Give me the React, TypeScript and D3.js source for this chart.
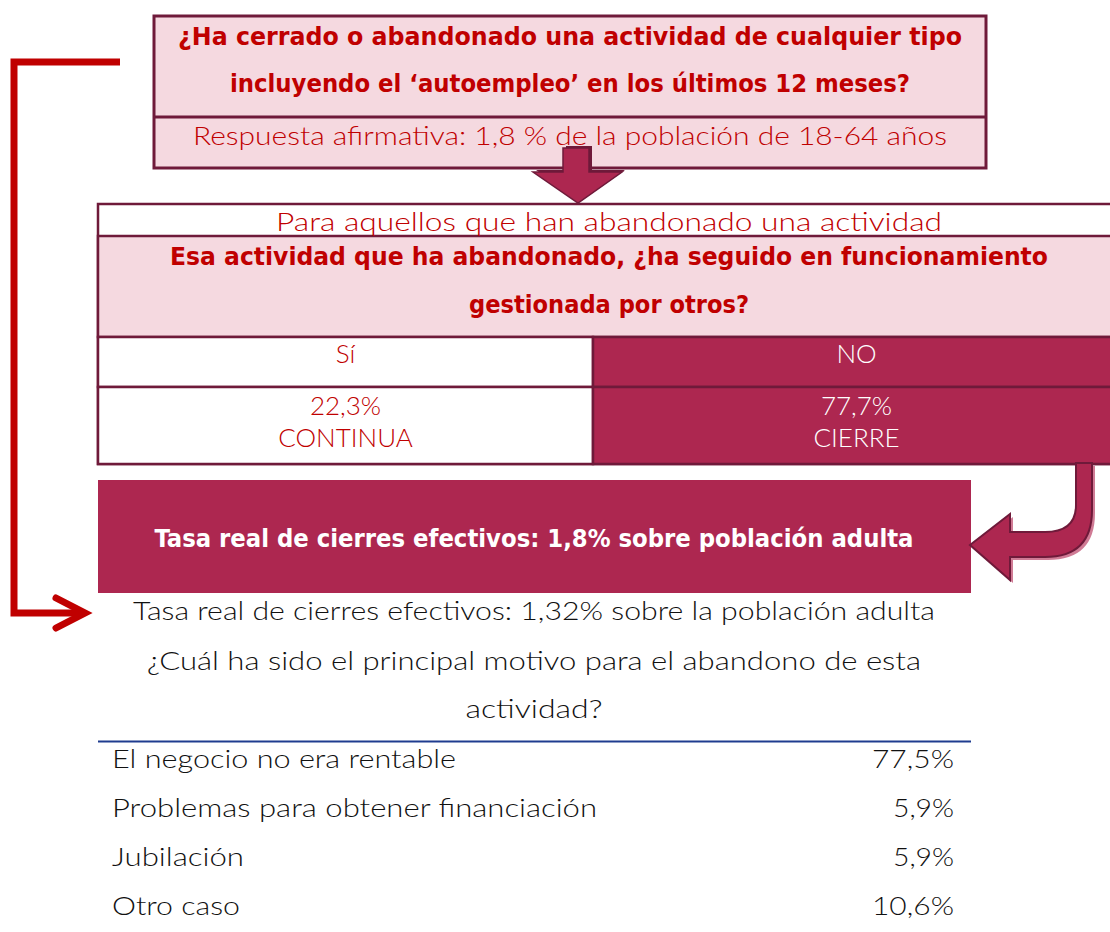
import React from 'react';
import * as d3 from 'd3';

// ---------- data ----------
const questionLines = [
  '¿Ha cerrado o abandonado una actividad de cualquier tipo',
  'incluyendo el ‘autoempleo’ en los últimos 12 meses?',
];
const affirmativeShare = 1.8;
const subgroupLabel = 'Para aquellos que han abandonado una actividad';
const followUpLines = [
  'Esa actividad que ha abandonado, ¿ha seguido en funcionamiento',
  'gestionada por otros?',
];
const answerCategories = ['Sí', 'NO'];
const answerShares = [22.3, 77.7];
const answerOutcomes = ['CONTINUA', 'CIERRE'];
const effectiveRateBox = 1.8;
const effectiveRateReal = 1.32;
const reasonQuestionLines = [
  '¿Cuál ha sido el principal motivo para el abandono de esta',
  'actividad?',
];
const reasons = [
  'El negocio no era rentable',
  'Problemas para obtener financiación',
  'Jubilación',
  'Otro caso',
];
const reasonShares = [77.5, 5.9, 5.9, 10.6];

// ---------- styles ----------
const RED = '#c00000';
const PINK = '#f5d9e0';
const MAROON = '#ad2750';
const BORDER = '#6f1a3a';
const BLUE = '#1f3c8f';
const THIN = "'Lato', 'Open Sans', sans-serif";
const BOLD = "'DejaVu Sans Condensed', 'DejaVu Sans', sans-serif";

const es = d3.formatLocale({ decimal: ',', thousands: '.', grouping: [3], currency: ['', '€'] });
const f1 = es.format('.1f');
const f2 = es.format('.2f');

type TP = { x: number; y: number; w?: number; anchor?: string; fill: string; size: number; bold?: boolean; children: any };
const T = ({ x, y, w, anchor = 'middle', fill, size, bold, children }: TP) => (
  <text
    x={x}
    y={y}
    textAnchor={anchor}
    fill={fill}
    fontSize={size}
    fontFamily={bold ? BOLD : THIN}
    fontWeight={bold ? 700 : 300}
    {...(w ? { textLength: w, lengthAdjust: 'spacingAndGlyphs' } : {})}
  >
    {children}
  </text>
);

export default function App() {
  const W = 1110;
  const H = 932;

  // columns of the answer table
  const colX = d3.scaleOrdinal<string, number>().domain(answerCategories).range([98, 593]);
  const colW = d3.scaleOrdinal<string, number>().domain(answerCategories).range([495, 527]);

  // reason rows
  const rowY = d3.scalePoint<string>().domain(reasons).range([768, 915]);

  const downArrow = 'M563,148 L589,148 L589,172 L622,172 L578,203 L533,172 L563,172 Z';
  const curvedArrow =
    'M1076,463 L1076,505 Q1076,532 1045,532 L1010,532 L1010,514 L970,545 L1010,580 L1010,557 L1045,557 Q1092,557 1092,510 L1092,463 Z';

  const titleWidths = [784, 680];
  const followWidths = [878, 280];
  const qWidths = [774, 137];
  const labelWidths = [344, 485, 132, 128];
  const valueWidths = [82, 61, 61, 82];

  return (
    <svg width={W} height={H} style={{ position: 'absolute', left: 0, top: 0, background: '#fff' }}>
      <rect x={0} y={0} width={W} height={H} fill="#fff" />

      {/* red bracket arrow on the left */}
      <path d="M120,62 H14 V613 H82" fill="none" stroke={RED} strokeWidth={7} strokeLinejoin="miter" />
      <path d="M56,598 L85,613 L56,628" fill="none" stroke={RED} strokeWidth={7} strokeLinecap="round" strokeLinejoin="miter" />

      {/* top question box */}
      <rect x={154} y={16} width={832} height={152} fill={PINK} stroke={BORDER} strokeWidth={3} />
      <line x1={154} x2={986} y1={117} y2={117} stroke={BORDER} strokeWidth={3} />
      {questionLines.map((l, i) => (
        <T key={l} x={570} y={45 + i * 47} w={titleWidths[i]} fill={RED} size={24} bold>
          {l}
        </T>
      ))}
      <T x={570} y={145} w={754} fill={RED} size={26}>
        {`Respuesta afirmativa: ${f1(affirmativeShare)} % de la población de 18-64 años`}
      </T>

      {/* down arrow */}
      <path d={downArrow} transform="translate(3,-2)" fill={BORDER} />
      <path d={downArrow} fill={MAROON} stroke={BORDER} strokeWidth={1.5} />

      {/* second box */}
      <rect x={98} y={204} width={1030} height={260} fill="#fff" stroke={BORDER} strokeWidth={2.5} />
      <rect x={98} y={236} width={1030} height={101} fill={PINK} stroke={BORDER} strokeWidth={2.5} />
      <T x={609} y={231} w={666} fill={RED} size={26}>
        {subgroupLabel}
      </T>
      {followUpLines.map((l, i) => (
        <T key={l} x={609} y={265 + i * 48} w={followWidths[i]} fill={RED} size={24} bold>
          {l}
        </T>
      ))}
      {answerCategories.map((c, i) => {
        const x0 = colX(c);
        const w = colW(c);
        const dark = i === 1;
        const fg = dark ? '#fff' : RED;
        return (
          <g key={c}>
            <rect x={x0} y={337} width={w} height={50} fill={dark ? MAROON : '#fff'} stroke={BORDER} strokeWidth={2.5} />
            <rect x={x0} y={387} width={w} height={77} fill={dark ? MAROON : '#fff'} stroke={BORDER} strokeWidth={2.5} />
            <T x={x0 + (dark ? 263.5 : w / 2)} y={363} fill={fg} size={26}>
              {c}
            </T>
            <T x={x0 + (dark ? 263.5 : w / 2)} y={415} fill={fg} size={26}>
              {`${f1(answerShares[i])}%`}
            </T>
            <T x={x0 + (dark ? 263.5 : w / 2)} y={447} fill={fg} size={26}>
              {answerOutcomes[i]}
            </T>
          </g>
        );
      })}

      {/* effective closures box */}
      <rect x={98} y={480} width={873} height={113} fill={MAROON} />
      <T x={534} y={547} w={759} fill="#fff" size={24} bold>
        {`Tasa real de cierres efectivos: ${f1(effectiveRateBox)}% sobre población adulta`}
      </T>

      {/* curved arrow */}
      <path d={curvedArrow} transform="translate(3,3)" fill="#c45a7a" opacity={0.8} />
      <path d={curvedArrow} fill={MAROON} stroke={BORDER} strokeWidth={2} />

      {/* below text */}
      <T x={534} y={620} w={802} fill="#111" size={26}>
        {`Tasa real de cierres efectivos: ${f2(effectiveRateReal)}% sobre la población adulta`}
      </T>
      {reasonQuestionLines.map((l, i) => (
        <T key={l} x={534} y={670 + i * 48} w={qWidths[i]} fill="#111" size={26}>
          {l}
        </T>
      ))}

      <line x1={98} x2={971} y1={741.5} y2={741.5} stroke={BLUE} strokeWidth={2} />
      {reasons.map((r, i) => (
        <g key={r}>
          <T x={112} y={rowY(r)!} w={labelWidths[i]} anchor="start" fill="#111" size={26}>
            {r}
          </T>
          <T x={954} y={rowY(r)!} w={valueWidths[i]} anchor="end" fill="#111" size={26}>
            {`${f1(reasonShares[i])}%`}
          </T>
        </g>
      ))}
    </svg>
  );
}
